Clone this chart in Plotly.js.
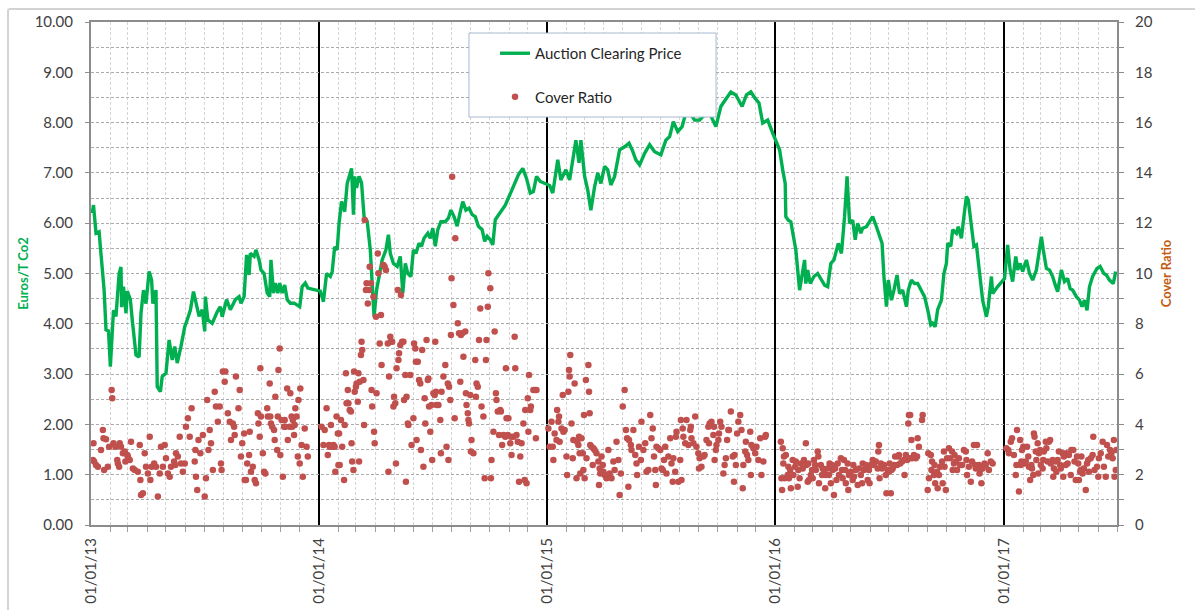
<!DOCTYPE html>
<html><head><meta charset="utf-8">
<script src="https://cdn.plot.ly/plotly-3.0.1.min.js"></script>
<style>
html,body{margin:0;padding:0;background:#fff;}
#chart{width:1195px;height:610px;position:absolute;left:0;top:0;}
#frame{position:absolute;left:7px;top:8px;width:1200px;height:620px;border:2px solid #d3d3d3;border-radius:3px;pointer-events:none;box-sizing:border-box;}
</style>
</head><body><div id="chart"></div><div id="frame"></div>
<script>
// Auction clearing price (EUR/t CO2), [MM-DD, value] per year
const price2013 = [['01-03',6.20],['01-05',6.36],['01-09',5.80],['01-14',5.83],['01-16',5.53],['01-22',4.67],['01-25',3.88],['01-29',3.86],['02-01',3.15],['02-06',4.27],['02-10',4.15],['02-15',5.00],['02-18',5.13],['02-19',4.33],['02-22',4.74],['02-26',4.21],['02-28',4.65],['03-05',4.48],['03-08',4.08],['03-14',3.38],['03-19',3.34],['03-22',4.21],['03-26',4.67],['03-30',4.40],['04-04',5.04],['04-08',4.87],['04-10',4.40],['04-15',4.67],['04-17',2.75],['04-22',2.65],['04-25',2.95],['05-01',3.02],['05-06',3.68],['05-11',3.28],['05-15',3.55],['05-19',3.22],['05-25',3.55],['05-31',3.94],['06-04',4.08],['06-09',4.27],['06-14',4.64],['06-17',4.48],['06-23',4.15],['06-28',4.28],['07-02',3.85],['07-03',4.54],['07-07',4.08],['07-14',4.01],['07-22',4.24],['07-27',4.34],['07-30',4.14],['08-06',4.48],['08-12',4.28],['08-20',4.48],['08-26',4.54],['08-29',4.41],['09-03',4.54],['09-07',5.37],['09-11',4.97],['09-13',5.40],['09-19',5.34],['09-22',5.47],['09-27',5.27],['09-30',5.07],['10-05',5.00],['10-10',4.61],['10-14',4.54],['10-16',5.27],['10-20',4.61],['10-23',4.81],['10-27',4.61],['10-30',4.81],['11-03',4.61],['11-07',4.77],['11-11',4.48],['11-16',4.41],['11-22',4.41],['12-01',4.34],['12-05',4.74],['12-10',4.81],['12-14',4.71]];
const price2014 = [['01-03',4.65],['01-08',4.44],['01-13',5.00],['01-19',4.94],['01-22',5.04],['01-26',5.53],['01-30',5.47],['02-02',6.00],['02-06',6.43],['02-11',6.23],['02-15',6.79],['02-22',7.09],['02-25',6.17],['02-27',6.93],['03-02',6.70],['03-06',6.93],['03-10',6.80],['03-14',6.13],['03-19',6.04],['03-24',5.47],['03-27',4.80],['03-30',4.14],['04-03',4.67],['04-07',4.94],['04-12',5.27],['04-18',5.47],['04-22',5.77],['04-25',5.40],['04-30',5.20],['05-06',5.14],['05-11',5.34],['05-15',4.61],['05-19',5.20],['05-23',5.00],['05-28',4.94],['06-01',5.47],['06-05',5.40],['06-10',5.60],['06-14',5.54],['06-18',5.70],['06-24',5.80],['06-28',5.70],['07-02',5.90],['07-06',5.54],['07-10',5.87],['07-15',6.03],['07-22',6.03],['07-27',6.10],['07-31',6.26],['08-05',6.13],['08-10',5.94],['08-15',6.23],['08-19',6.43],['08-24',6.26],['08-29',6.30],['09-03',6.17],['09-08',6.13],['09-13',5.94],['09-19',5.87],['09-23',5.64],['09-27',5.74],['10-02',5.67],['10-06',5.57],['10-10',6.07],['10-15',6.17],['10-21',6.26],['10-26',6.36],['10-31',6.50],['11-06',6.66],['11-11',6.80],['11-16',6.96],['11-23',7.09],['11-29',6.89],['12-05',6.60],['12-10',6.63],['12-15',6.93],['12-21',6.83]];
const price2015 = [['01-05',6.75],['01-10',6.60],['01-18',7.26],['01-23',6.86],['01-31',7.06],['02-06',6.86],['02-16',7.65],['02-21',7.20],['02-24',7.65],['03-02',6.93],['03-07',6.66],['03-12',6.26],['03-18',6.73],['03-23',7.00],['03-28',6.79],['04-03',7.13],['04-08',7.06],['04-13',6.76],['04-19',6.93],['04-27',7.46],['05-05',7.52],['05-12',7.59],['05-17',7.46],['05-23',7.26],['05-29',7.16],['06-06',7.39],['06-14',7.56],['06-22',7.42],['07-02',7.36],['07-10',7.65],['07-16',7.72],['07-22',8.02],['07-29',7.82],['08-05',7.92],['08-10',8.15],['08-17',8.20],['08-25',8.05],['09-02',8.05],['09-07',8.12],['09-18',8.19],['09-28',7.92],['10-06',8.32],['10-13',8.45],['10-22',8.61],['10-30',8.55],['11-09',8.32],['11-16',8.55],['11-23',8.61],['11-30',8.48],['12-06',8.39],['12-12',7.99],['12-20',8.05],['12-28',7.79]];
const price2016 = [['01-04',7.55],['01-08',7.46],['01-13',7.06],['01-17',6.79],['01-18',6.13],['01-22',6.06],['01-26',6.03],['01-31',5.73],['02-03',5.47],['02-09',4.67],['02-14',5.00],['02-17',5.27],['02-19',4.80],['02-22',5.07],['02-26',4.80],['03-03',4.94],['03-09',5.00],['03-15',4.87],['03-20',4.77],['03-25',4.74],['03-30',5.20],['04-04',5.27],['04-08',5.47],['04-11',5.60],['04-16',5.40],['04-21',6.13],['04-25',6.93],['04-29',6.00],['05-04',6.06],['05-08',5.67],['05-12',6.00],['05-17',5.80],['05-20',5.90],['05-26',5.93],['05-31',6.03],['06-05',6.13],['06-11',5.93],['06-14',5.80],['06-20',5.60],['06-23',4.94],['06-27',4.34],['06-30',4.87],['07-05',4.47],['07-09',4.67],['07-14',4.97],['07-18',4.60],['07-23',4.67],['07-29',4.34],['08-01',4.67],['08-06',4.87],['08-11',4.80],['08-16',4.80],['08-22',4.67],['08-27',4.54],['09-01',4.28],['09-06',3.98],['09-09',4.01],['09-13',3.94],['09-17',4.28],['09-23',4.47],['09-27',5.00],['10-01',5.20],['10-03',5.60],['10-08',5.54],['10-11',5.87],['10-17',5.80],['10-20',5.93],['10-25',5.70],['10-29',6.13],['11-02',6.53],['11-05',6.46],['11-10',5.93],['11-14',5.54],['11-18',5.57],['11-23',5.07],['11-28',4.47],['12-04',4.14],['12-07',4.34],['12-12',4.94],['12-14',4.60],['12-22',4.74]];
const price2017 = [['01-02',4.90],['01-07',5.57],['01-11',5.07],['01-15',4.84],['01-20',5.34],['01-23',5.07],['01-27',5.20],['01-31',5.04],['02-06',5.27],['02-11',5.00],['02-16',4.87],['02-22',5.07],['02-26',5.44],['03-02',5.73],['03-05',5.47],['03-10',5.10],['03-15',5.07],['03-20',4.94],['03-25',4.74],['03-28',4.64],['04-03',5.07],['04-08',4.84],['04-13',4.90],['04-17',4.70],['04-21',4.67],['04-27',4.54],['05-02',4.47],['05-06',4.34],['05-10',4.47],['05-14',4.27],['05-18',4.74],['05-23',4.94],['05-30',5.10],['06-04',5.14],['06-10',5.00],['06-14',4.97],['06-19',4.87],['06-25',4.80],['06-29',5.04]];

// Cover ratio, [MM-DD, value] per year
const cover2013 = [['01-04',2.58],['01-05',3.25],['01-06',2.52],['01-09',2.39],['01-12',2.32],['01-17',2.98],['01-20',3.78],['01-21',3.45],['01-22',2.19],['01-25',3.41],['01-28',2.32],['01-30',3.11],['02-03',5.37],['02-04',5.04],['02-06',3.25],['02-09',3.11],['02-12',2.58],['02-13',2.45],['02-15',2.32],['02-16',3.25],['02-18',3.11],['02-21',2.85],['02-24',2.92],['02-25',2.52],['02-28',2.78],['03-01',2.72],['03-04',2.58],['03-06',3.31],['03-09',2.25],['03-12',2.19],['03-17',2.12],['03-20',3.18],['03-21',1.79],['03-22',1.19],['03-25',1.26],['03-28',2.85],['03-30',2.32],['04-02',2.05],['04-05',3.51],['04-06',1.79],['04-08',2.32],['04-12',2.45],['04-15',2.32],['04-18',1.13],['04-21',2.05],['04-23',3.11],['04-26',2.32],['04-29',3.18],['05-01',2.65],['05-04',2.05],['05-07',1.92],['05-09',2.32],['05-14',2.52],['05-16',2.39],['05-17',2.85],['05-20',2.72],['05-23',3.51],['05-25',2.45],['05-28',2.12],['05-31',2.45],['06-02',3.91],['06-05',4.24],['06-08',3.51],['06-11',4.64],['06-16',2.52],['06-17',2.98],['06-18',1.92],['06-20',1.39],['06-22',3.38],['06-25',2.85],['06-29',3.58],['07-02',1.13],['07-04',1.86],['07-06',4.97],['07-08',2.98],['07-10',3.78],['07-12',3.25],['07-15',2.19],['07-18',5.30],['07-20',4.71],['07-23',4.11],['07-26',4.71],['07-28',2.45],['07-29',2.19],['07-31',6.10],['08-03',5.70],['08-04',6.10],['08-08',4.44],['08-11',4.11],['08-13',3.38],['08-16',4.04],['08-18',3.91],['08-19',3.58],['08-21',5.90],['08-25',4.64],['08-27',5.37],['08-29',2.72],['08-31',3.25],['09-03',3.64],['09-04',1.79],['09-06',1.79],['09-08',2.45],['09-11',2.78],['09-12',3.71],['09-14',2.12],['09-17',2.32],['09-20',1.79],['09-22',1.66],['09-25',4.44],['09-26',4.04],['09-28',3.51],['09-29',6.23],['09-30',4.31],['10-03',2.85],['10-05',2.12],['10-07',2.05],['10-10',4.64],['10-11',4.31],['10-14',5.63],['10-15',4.31],['10-16',4.04],['10-18',3.91],['10-21',3.78],['10-22',3.38],['10-23',5.10],['10-26',2.98],['10-27',4.31],['10-28',6.16],['10-30',7.02],['10-31',2.78],['11-02',4.17],['11-04',1.92],['11-06',3.91],['11-07',4.17],['11-08',3.91],['11-11',5.43],['11-12',3.38],['11-15',3.91],['11-16',5.24],['11-18',4.31],['11-19',3.91],['11-20',4.17],['11-22',3.58],['11-23',3.98],['11-24',4.64],['11-26',4.31],['11-28',2.72],['11-29',4.97],['12-01',2.45],['12-02',5.43],['12-04',3.18],['12-06',1.92],['12-09',3.84],['12-12',3.11],['12-14',2.72]];
const cover2014 = [['01-05',3.91],['01-08',3.18],['01-10',3.78],['01-13',4.64],['01-15',2.78],['01-17',3.18],['01-18',3.11],['01-20',3.98],['01-22',3.11],['01-24',3.18],['01-26',3.11],['01-27',2.12],['01-29',4.31],['01-31',3.64],['02-01',2.39],['02-02',3.64],['02-03',2.39],['02-05',4.17],['02-07',3.11],['02-10',1.79],['02-11',3.98],['02-13',6.03],['02-14',4.84],['02-16',5.37],['02-17',4.84],['02-19',4.57],['02-21',4.51],['02-22',3.25],['02-23',2.52],['02-25',2.19],['02-26',6.10],['02-27',5.30],['03-01',5.50],['03-02',5.63],['03-04',4.90],['03-05',6.03],['03-06',2.52],['03-07',5.70],['03-09',6.76],['03-10',7.29],['03-11',6.96],['03-13',5.77],['03-14',3.98],['03-15',12.13],['03-17',9.34],['03-18',9.61],['03-20',8.81],['03-22',9.34],['03-23',10.27],['03-25',9.61],['03-26',5.37],['03-27',4.71],['03-29',9.08],['03-30',3.71],['03-31',3.25],['04-02',8.28],['04-03',5.24],['04-05',10.80],['04-06',10.01],['04-08',7.22],['04-10',8.35],['04-11',6.36],['04-14',10.34],['04-16',10.27],['04-18',10.14],['04-21',7.22],['04-22',2.12],['04-23',5.90],['04-25',7.49],['04-26',7.29],['04-28',7.29],['04-30',4.71],['05-01',5.10],['05-03',4.84],['05-04',2.45],['05-05',6.23],['05-07',9.34],['05-08',6.56],['05-09',6.83],['05-11',7.16],['05-12',9.15],['05-14',7.29],['05-16',7.29],['05-17',4.97],['05-19',5.96],['05-20',1.72],['05-21',5.10],['05-23',4.04],['05-24',3.98],['05-27',5.96],['05-29',3.18],['06-01',4.24],['06-02',7.22],['06-04',7.02],['06-05',6.49],['06-06',3.38],['06-08',6.49],['06-10',5.77],['06-12',5.63],['06-13',2.98],['06-15',6.96],['06-17',2.32],['06-19',5.04],['06-20',4.04],['06-22',7.36],['06-24',5.77],['06-25',5.83],['06-26',4.71],['06-28',3.71],['06-30',4.77],['07-01',2.58],['07-03',5.24],['07-05',5.17],['07-06',7.29],['07-07',5.30],['07-08',4.77],['07-11',4.77],['07-14',4.17],['07-15',2.85],['07-16',5.30],['07-19',5.90],['07-22',6.36],['07-24',3.11],['07-26',5.63],['07-27',2.58],['07-28',5.50],['07-30',4.97],['07-31',7.55],['08-01',9.81],['08-02',13.85],['08-04',8.75],['08-06',4.24],['08-07',11.40],['08-11',8.02],['08-13',7.62],['08-15',5.70],['08-16',7.55],['08-18',7.62],['08-20',6.69],['08-23',7.69],['08-24',5.24],['08-25',4.77],['08-27',4.44],['08-28',4.17],['08-29',4.04],['08-31',5.17],['09-01',2.92],['09-02',3.38],['09-05',2.85],['09-08',6.56],['09-09',5.10],['09-10',5.63],['09-12',5.50],['09-14',7.36],['09-16',8.61],['09-18',4.71],['09-21',4.31],['09-23',1.86],['09-25',6.56],['09-26',7.36],['09-28',8.68],['09-29',10.01],['10-02',9.41],['10-03',1.86],['10-04',2.58],['10-07',3.71],['10-09',7.69],['10-11',5.24],['10-12',4.97],['10-14',4.51],['10-16',3.58],['10-18',4.57],['10-19',4.51],['10-21',3.18],['10-23',3.58],['10-26',3.51],['10-27',6.23],['10-28',4.24],['10-30',3.58],['10-31',4.24],['11-03',3.25],['11-04',3.51],['11-05',2.78],['11-08',3.51],['11-10',7.49],['11-11',6.23],['11-13',3.58],['11-15',3.31],['11-17',1.72],['11-19',2.72],['11-21',3.25],['11-24',4.04],['11-26',1.79],['11-27',4.57],['11-29',1.66],['12-01',5.04],['12-02',3.71],['12-03',5.96],['12-05',4.57],['12-06',4.71],['12-10',5.37],['12-13',5.37],['12-14',3.45],['12-15',5.37]];
const cover2015 = [['01-03',3.84],['01-05',3.11],['01-08',4.11],['01-10',3.11],['01-11',2.58],['01-13',3.64],['01-16',3.38],['01-17',4.57],['01-19',4.11],['01-20',4.31],['01-21',3.31],['01-24',3.84],['01-26',5.17],['01-27',3.71],['01-29',3.78],['02-01',2.72],['02-02',1.99],['02-04',5.30],['02-05',6.16],['02-06',5.90],['02-07',6.76],['02-09',4.04],['02-11',2.65],['02-12',3.38],['02-14',5.63],['02-17',1.86],['02-18',3.31],['02-20',3.18],['02-21',3.51],['02-22',2.85],['02-23',2.05],['02-25',3.45],['02-27',2.85],['02-28',2.19],['03-01',4.37],['03-02',1.86],['03-04',5.77],['03-05',2.65],['03-08',6.36],['03-09',5.30],['03-10',4.44],['03-11',3.18],['03-13',3.11],['03-15',2.39],['03-16',3.05],['03-18',2.98],['03-21',2.85],['03-24',2.52],['03-25',1.59],['03-26',2.25],['03-27',2.05],['03-29',2.72],['03-31',2.39],['04-01',2.12],['04-03',1.99],['04-06',1.86],['04-09',2.98],['04-11',2.05],['04-14',1.86],['04-17',2.52],['04-19',2.19],['04-22',3.31],['04-25',2.58],['04-27',1.19],['04-29',2.05],['05-02',4.71],['05-05',5.37],['05-07',3.78],['05-09',3.45],['05-11',1.52],['05-12',3.38],['05-15',3.18],['05-16',2.98],['05-19',3.78],['05-22',2.78],['05-24',2.45],['05-25',1.99],['05-28',3.11],['05-31',2.58],['06-01',4.11],['06-04',2.98],['06-07',3.25],['06-09',2.12],['06-12',2.19],['06-15',4.37],['06-17',3.45],['06-19',3.84],['06-21',2.72],['06-23',2.19],['06-24',1.59],['06-25',3.11],['06-28',3.05],['07-01',2.98],['07-03',2.25],['07-05',2.19],['07-07',2.58],['07-09',3.11],['07-11',2.05],['07-14',2.72],['07-17',3.45],['07-19',2.45],['07-21',1.72],['07-22',2.65],['07-25',2.12],['07-26',3.51],['07-27',3.71],['07-30',1.72],['08-02',2.58],['08-03',4.17],['08-04',1.79],['08-06',3.84],['08-07',3.51],['08-10',3.25],['08-12',4.17],['08-15',3.18],['08-18',3.78],['08-19',3.91],['08-20',3.45],['08-23',3.25],['08-26',4.31],['08-28',3.11],['08-31',2.85],['09-01',2.25],['09-02',2.65],['09-05',2.32],['09-08',2.72],['09-10',2.78],['09-13',3.38],['09-16',3.91],['09-17',3.25],['09-18',4.04],['09-21',4.11],['09-24',3.58],['09-25',3.91],['09-26',2.58],['09-28',2.98],['09-29',3.18],['10-02',3.38],['10-03',3.64],['10-05',4.11],['10-07',3.91],['10-10',2.05],['10-12',2.39],['10-14',2.65],['10-16',3.38],['10-18',3.78],['10-19',3.78],['10-22',4.51],['10-25',2.72],['10-27',1.72],['10-28',2.78],['10-30',2.39],['11-01',3.64],['11-03',4.11],['11-06',4.37],['11-08',3.78],['11-10',1.46],['11-11',2.39],['11-14',2.92],['11-15',3.31],['11-17',2.78],['11-19',2.58],['11-22',3.71],['11-23',1.99],['11-24',3.18],['11-27',3.05],['11-30',2.85],['12-02',3.11],['12-05',2.58],['12-08',3.45],['12-10',1.99],['12-13',2.52],['12-16',3.51],['12-17',3.58]];
const cover2016 = [['01-10',3.31],['01-11',1.86],['01-12',1.39],['01-13',3.05],['01-14',2.45],['01-15',2.72],['01-16',1.86],['01-18',2.78],['01-21',1.99],['01-22',2.32],['01-23',1.86],['01-25',2.19],['01-26',1.46],['01-29',2.58],['01-30',1.99],['02-02',2.32],['02-03',2.52],['02-06',1.52],['02-07',2.19],['02-09',1.86],['02-11',2.45],['02-14',2.25],['02-16',2.58],['02-19',3.25],['02-20',2.39],['02-22',1.72],['02-23',2.45],['02-24',1.79],['02-27',1.99],['02-29',2.19],['03-01',1.86],['03-03',2.58],['03-05',2.39],['03-06',2.19],['03-09',2.92],['03-10',2.72],['03-11',1.66],['03-14',2.39],['03-16',1.99],['03-17',2.25],['03-19',2.19],['03-21',1.46],['03-22',1.99],['03-25',2.25],['03-27',1.99],['03-28',2.45],['03-30',1.66],['04-01',2.39],['04-02',2.19],['04-04',1.19],['04-06',2.25],['04-08',1.79],['04-10',2.45],['04-12',1.99],['04-15',2.65],['04-17',2.19],['04-18',1.86],['04-20',2.58],['04-22',2.19],['04-23',1.66],['04-26',2.45],['04-27',1.39],['04-28',1.99],['05-01',2.12],['05-04',1.79],['05-05',2.39],['05-06',1.92],['05-09',2.19],['05-12',1.59],['05-14',2.25],['05-17',1.99],['05-19',1.66],['05-20',2.45],['05-22',2.19],['05-25',2.39],['05-28',1.79],['05-30',2.19],['05-31',1.66],['06-02',2.39],['06-05',2.58],['06-07',2.39],['06-10',2.52],['06-13',2.25],['06-14',2.92],['06-15',3.18],['06-16',1.86],['06-18',2.45],['06-20',2.25],['06-23',2.39],['06-26',1.99],['06-27',1.26],['06-29',2.19],['07-01',2.12],['07-02',2.45],['07-04',1.26],['07-05',2.19],['07-07',2.25],['07-09',2.39],['07-11',2.72],['07-14',2.39],['07-16',2.72],['07-17',2.78],['07-19',2.45],['07-22',2.52],['07-25',2.58],['07-26',1.99],['07-28',2.78],['07-30',2.58],['08-01',4.04],['08-02',4.37],['08-03',2.65],['08-04',4.37],['08-06',3.38],['08-07',2.65],['08-10',2.78],['08-11',2.72],['08-13',2.65],['08-15',2.72],['08-16',3.45],['08-18',3.11],['08-23',4.17],['08-24',4.37],['09-01',1.39],['09-02',2.85],['09-03',1.86],['09-06',2.78],['09-07',2.19],['09-08',2.52],['09-11',1.99],['09-12',2.39],['09-13',1.66],['09-16',2.12],['09-17',1.46],['09-19',1.99],['09-21',2.32],['09-24',2.52],['09-25',1.66],['09-27',2.92],['09-28',2.32],['09-30',1.39],['10-02',2.65],['10-05',3.05],['10-07',2.65],['10-10',2.92],['10-11',2.19],['10-13',2.45],['10-14',2.78],['10-16',2.52],['10-18',2.19],['10-21',2.65],['10-23',2.39],['10-26',2.39],['10-29',2.98],['11-01',2.92],['11-02',2.58],['11-03',1.99],['11-06',2.32],['11-09',1.72],['11-11',2.52],['11-14',3.18],['11-16',2.39],['11-17',2.25],['11-19',3.18],['11-22',2.39],['11-23',2.05],['11-24',2.19],['11-26',1.66],['11-28',2.25],['12-01',2.45],['12-03',2.39],['12-06',2.85],['12-08',2.19],['12-11',2.52],['12-14',2.45]];
const cover2017 = [['01-05',3.05],['01-08',2.98],['01-09',2.85],['01-12',3.31],['01-14',3.45],['01-17',2.78],['01-20',1.99],['01-21',2.39],['01-22',3.78],['01-25',1.33],['01-27',3.38],['01-28',2.39],['01-29',2.52],['01-30',2.98],['02-01',3.11],['02-03',2.45],['02-05',2.52],['02-07',3.11],['02-09',2.72],['02-10',2.32],['02-12',1.79],['02-14',2.39],['02-15',2.25],['02-17',1.99],['02-18',3.64],['02-19',3.51],['02-21',2.92],['02-22',2.58],['02-24',3.25],['02-25',2.05],['02-26',2.85],['02-28',2.98],['03-01',2.39],['03-04',2.25],['03-05',2.58],['03-06',2.92],['03-09',3.31],['03-10',3.05],['03-12',2.52],['03-14',3.31],['03-16',3.38],['03-17',2.45],['03-20',2.58],['03-21',1.92],['03-22',2.25],['03-25',2.52],['03-26',2.12],['03-28',2.58],['03-30',2.92],['04-01',2.39],['04-02',2.25],['04-05',2.85],['04-06',1.92],['04-07',2.72],['04-10',2.39],['04-11',2.85],['04-13',2.45],['04-15',2.78],['04-18',1.99],['04-19',2.98],['04-22',2.98],['04-24',2.52],['04-26',1.79],['04-28',2.72],['04-30',2.45],['05-01',1.79],['05-03',2.12],['05-04',2.19],['05-05',2.72],['05-07',2.05],['05-09',2.25],['05-12',1.39],['05-14',2.45],['05-16',2.58],['05-17',2.12],['05-20',2.65],['05-23',2.78],['05-24',3.51],['05-26',2.19],['05-30',2.32],['06-01',1.92],['06-02',2.65],['06-05',2.85],['06-08',3.31],['06-10',2.32],['06-13',1.92],['06-15',3.18],['06-17',2.72],['06-20',2.98],['06-22',2.85],['06-24',2.65],['06-26',3.38],['06-27',1.92],['06-29',2.19],['06-30',2.98]];

const seriesNames = ['Auction Clearing Price', 'Cover Ratio'];
const leftTitle = 'Euros/T Co2';
const rightTitle = 'Cover Ratio';

function build(perYear) {
  const xs = [], ys = [];
  Object.keys(perYear).forEach(function (yr) {
    perYear[yr].forEach(function (p) { xs.push(yr + '-' + p[0]); ys.push(p[1]); });
  });
  return {x: xs, y: ys};
}
const price = build({2013: price2013, 2014: price2014, 2015: price2015, 2016: price2016, 2017: price2017});
const cover = build({2013: cover2013, 2014: cover2014, 2015: cover2015, 2016: cover2016, 2017: cover2017});

const FONT = 'Lato, "Open Sans", "DejaVu Sans", sans-serif';

const traces = [
  {x: price.x, y: price.y, type: 'scatter', mode: 'lines', name: seriesNames[0],
   line: {color: '#00b050', width: 3.4}, legendgroup: 'a', hoverinfo: 'skip'},
  {x: cover.x, y: cover.y, type: 'scatter', mode: 'markers', name: seriesNames[1], yaxis: 'y2',
   marker: {color: '#c0504d', size: 6.5}, legendgroup: 'b', hoverinfo: 'skip'}
];

const layout = {
  width: 1195, height: 610,
  margin: {l: 91, r: 78, t: 22, b: 85, pad: 0},
  paper_bgcolor: 'rgba(0,0,0,0)', plot_bgcolor: '#ffffff',
  font: {family: FONT, size: 15, color: '#404040'},
  showlegend: true,
  hovermode: false,
  legend: {x: 0.3938, y: 0.9702, xanchor: 'left', yanchor: 'top', bgcolor: 'rgba(0,0,0,0)',
           borderwidth: 0, traceorder: 'grouped', tracegroupgap: 21,
           font: {family: FONT, size: 15, color: '#262626'}},
  xaxis: {type: 'date', range: ['2013-01-01', '2017-07-01'], dtick: 'M12', tick0: '2013-01-01',
          tickformat: '%d/%m/%y', tickangle: -90, ticks: '', ticklabelstandoff: 5,
          showgrid: true, gridcolor: '#000000', gridwidth: 2,
          showline: true, linecolor: '#8c8c8c', linewidth: 2, mirror: true, zeroline: false,
          minor: {dtick: 'M1', tick0: '2013-01-01', showgrid: true, gridcolor: '#d4d4d4', gridwidth: 1,
                  griddash: '3px,2px', ticks: 'outside', ticklen: 5, tickcolor: '#a0a0a0'},
          tickfont: {family: FONT, size: 15, color: '#404040'}, fixedrange: true},
  yaxis: {range: [0, 10], dtick: 1, tick0: 0, tickformat: '.2f',
          showgrid: true, gridcolor: '#ababab', gridwidth: 1, griddash: '3px,2px',
          minor: {dtick: 0.5, tick0: 0, showgrid: true, gridcolor: '#ababab', gridwidth: 1, griddash: '3px,2px'},
          showline: true, linecolor: '#8c8c8c', linewidth: 2, ticks: 'outside', ticklen: 4, tickcolor: '#8c8c8c',
          ticklabelstandoff: 9, zeroline: false, fixedrange: true,
          tickfont: {family: FONT, size: 15, color: '#404040'},
          title: {text: leftTitle, standoff: 3, font: {family: FONT, size: 13, color: '#00b050', weight: 'bold'}}},
  yaxis2: {overlaying: 'y', side: 'right', range: [0, 20], dtick: 2, tick0: 0,
           showgrid: false, zeroline: false, showline: true, linecolor: '#8c8c8c', linewidth: 2,
           ticks: 'outside', ticklen: 5, tickcolor: '#8c8c8c', ticklabelstandoff: 8,
           minor: {dtick: 1, ticks: 'outside', ticklen: 5, tickcolor: '#8c8c8c', showgrid: false},
           tickfont: {family: FONT, size: 15, color: '#404040'}, fixedrange: true,
           title: {text: rightTitle, standoff: 10, font: {family: FONT, size: 13, color: '#c55a11', weight: 'bold'}}},
  shapes: [
    {type: 'rect', xref: 'paper', yref: 'paper', x0: 0.3684, x1: 0.6092, y0: 0.8111, y1: 0.9781,
     fillcolor: '#ffffff', line: {color: '#a9b8d2', width: 1}, layer: 'above'}
  ]
};

Plotly.newPlot('chart', traces, layout, {staticPlot: true, displayModeBar: false});
</script></body></html>
